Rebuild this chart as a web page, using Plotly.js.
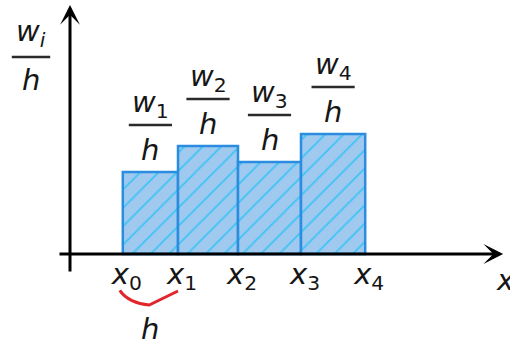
<!DOCTYPE html>
<html>
<head>
<meta charset="utf-8">
<script src="https://cdn.plot.ly/plotly-3.0.1.min.js"></script>
<style>
  html, body { margin: 0; padding: 0; background: #fff; }
  #chart { width: 510px; height: 343px; }
</style>
</head>
<body>
<div id="chart"></div>
<script>
// Class boundaries x0..x4 and the bar heights w_i / h
const edges = [0.88, 1.8, 2.8, 3.85, 4.92];
const heights = [4.1, 5.4, 4.6, 6.0];
const tickLabels = ['<i>x</i><sub>0</sub>', '<i>x</i><sub>1</sub>', '<i>x</i><sub>2</sub>',
                    '<i>x</i><sub>3</sub>', '<i>x</i><sub>4</sub>'];
const numerators = ['<i>w</i><sub>1</sub>', '<i>w</i><sub>2</sub>',
                    '<i>w</i><sub>3</sub>', '<i>w</i><sub>4</sub>'];
const denominator = '<i>h</i>';
const yAxisNumerator = '<i>w</i><sub><i>i</i></sub>';
const xAxisLabel = '<i>x</i>';

const FONT = 'DejaVu Sans, sans-serif';
const FSIZE = 29;
const INK = '#161616';

const mids = heights.map((_, i) => (edges[i] + edges[i + 1]) / 2);
const widths = heights.map((_, i) => edges[i + 1] - edges[i]);

const bars = {
  type: 'bar',
  x: mids,
  y: heights,
  width: widths,
  marker: {
    color: '#a0c9ef',
    line: { color: '#2b8de0', width: 2.5 },
    pattern: { shape: '/', fgcolor: '#3fc4f6', bgcolor: '#a0c9ef', size: 13, solidity: 0.14 }
  },
  hoverinfo: 'skip',
  showlegend: false
};

const annotations = [];
const shapes = [];

function fraction(xc, yNum, yLine, yDen, num, half) {
  annotations.push({ x: xc, y: yNum, xref: 'x', yref: 'y', text: num, showarrow: false,
    font: { family: FONT, size: FSIZE, color: INK }, yanchor: 'middle' });
  annotations.push({ x: xc, y: yDen, xref: 'x', yref: 'y', text: denominator, showarrow: false,
    font: { family: FONT, size: FSIZE, color: INK }, yanchor: 'middle' });
  shapes.push({ type: 'line', xref: 'x', yref: 'y', x0: xc - half, x1: xc + half,
    y0: yLine, y1: yLine, line: { color: '#2a2a2a', width: 2.5 } });
}

// w_i / h above each bar
heights.forEach((h, i) => fraction(mids[i], h + 3.4, h + 2.35, h + 1.1, numerators[i], 0.36));

// axis caption w_i / h next to the vertical axis
fraction(-0.65, 11.05, 9.85, 8.7, yAxisNumerator, 0.32);

// axes drawn as arrows crossing at the origin
annotations.push({ x: 7.22, y: 0, ax: -0.2, ay: 0, xref: 'x', yref: 'y', axref: 'x', ayref: 'y',
  text: '', showarrow: true, arrowhead: 3, arrowwidth: 3, arrowsize: 1.1, arrowcolor: '#000' });
annotations.push({ x: 0, y: 12.45, ax: 0, ay: -0.95, xref: 'x', yref: 'y', axref: 'x', ayref: 'y',
  text: '', showarrow: true, arrowhead: 3, arrowwidth: 3, arrowsize: 1.1, arrowcolor: '#000' });

// x axis caption
annotations.push({ x: 7.25, y: -1.3, xref: 'x', yref: 'y', text: xAxisLabel, showarrow: false,
  font: { family: FONT, size: FSIZE, color: INK }, yanchor: 'middle' });

// brace marking the class width h
shapes.push({ type: 'path', xref: 'x', yref: 'y',
  path: 'M0.83,-1.82 C0.92,-2.25 1.12,-2.5 1.32,-2.55 L1.8,-1.85',
  line: { color: '#e3242b', width: 3 } });
annotations.push({ x: 1.333, y: -3.75, xref: 'x', yref: 'y', text: denominator, showarrow: false,
  font: { family: FONT, size: FSIZE, color: INK }, yanchor: 'middle' });

const layout = {
  width: 510,
  height: 343,
  margin: { l: 0, r: 0, t: 0, b: 0 },
  paper_bgcolor: '#fff',
  plot_bgcolor: '#fff',
  bargap: 0,
  xaxis: {
    range: [-70 / 60, 440 / 60],
    anchor: 'free',
    position: 89 / 343,
    tickvals: edges,
    ticktext: tickLabels,
    ticks: '',
    showgrid: false,
    zeroline: false,
    showline: false,
    tickfont: { family: FONT, size: FSIZE, color: INK },
    ticklabelshift: 4,
    ticklabelstandoff: 0
  },
  yaxis: {
    range: [-4.45, 12.7],
    showgrid: false,
    zeroline: false,
    showline: false,
    showticklabels: false,
    ticks: ''
  },
  shapes: shapes,
  annotations: annotations
};

Plotly.newPlot('chart', [bars], layout, { staticPlot: true, displayModeBar: false });
</script>
</body>
</html>
